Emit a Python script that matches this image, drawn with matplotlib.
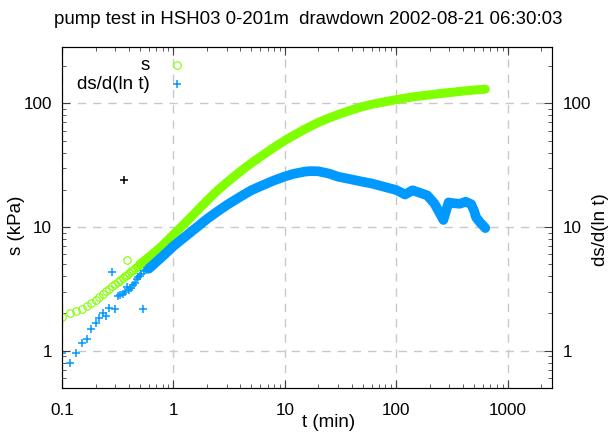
import matplotlib.pyplot as plt
from matplotlib.ticker import FixedLocator, LogLocator, NullFormatter

plt.rcParams['font.family'] = ['Liberation Sans', 'DejaVu Sans']
plt.rcParams['font.size'] = 12.3

green = '#80ff00'
blue = '#0099ff'

# first samples, 1 s apart (t in min)
t_early = [0.1, 0.117, 0.133, 0.15, 0.167, 0.183, 0.2, 0.217, 0.233, 0.25,
           0.267, 0.283, 0.3, 0.317, 0.333, 0.35, 0.367, 0.383, 0.383, 0.4,
           0.417, 0.433, 0.45, 0.467, 0.483, 0.5, 0.55, 0.6]
s_early = [1.88, 2.03, 2.10, 2.18, 2.31, 2.44, 2.58, 2.73, 2.88, 3.04,
           3.18, 3.32, 3.46, 3.59, 3.72, 3.86, 4.00, 4.12, 5.40, 4.25,
           4.38, 4.50, 4.62, 4.75, 4.86, 4.99, 5.33, 5.69]

t_early_d = [0.1, 0.117, 0.133, 0.15, 0.167, 0.183, 0.2, 0.217, 0.233, 0.25,
             0.267, 0.283, 0.3, 0.317, 0.333, 0.35, 0.367, 0.383, 0.4, 0.417,
             0.433, 0.45, 0.467, 0.483, 0.5, 0.517, 0.533, 0.55, 0.567]
ds_early = [0.96, 0.80, 0.96, 1.16, 1.25, 1.50, 1.68, 1.85, 2.03, 1.91,
            2.22, 4.33, 2.18, 2.78, 2.83, 2.90, 3.00, 3.28, 3.10, 3.22,
            3.40, 3.54, 3.81, 3.95, 4.00, 4.20, 2.18, 4.42, 4.50]

# dense part of the record
t_late = [0.5, 0.6, 0.7, 0.8, 0.9, 1, 1.2, 1.5, 2, 2.5, 3, 4, 5, 6, 8, 10,
          12, 15, 20, 25, 30, 40, 50, 60, 80, 100, 120, 150, 200, 250, 300,
          400, 500, 630]
s_late = [4.99, 5.69, 6.4, 7.1, 7.9, 8.7, 10.2, 12.5, 16.3, 19.8, 22.8,
          28.2, 32.8, 36.8, 44, 50, 55, 61.5, 70, 76, 81, 88.5, 94, 98, 103,
          107, 110, 113.5, 117, 120, 122, 125.5, 128, 130]

t_late_d = [0.6, 0.7, 0.8, 0.9, 1, 1.2, 1.5, 2, 2.5, 3, 4, 5, 6, 8, 10, 12,
            15, 17, 20, 25, 30, 40, 50, 60, 80, 100, 120, 140, 160, 190, 220,
            245, 265, 280, 295, 320, 370, 420, 470, 500, 520, 560, 600, 630]
ds_late = [4.6, 5.2, 5.8, 6.4, 7.0, 8.0, 9.4, 11.6, 13.4, 15.0, 17.6, 19.8,
           21.3, 23.8, 25.6, 26.9, 28.0, 28.3, 28.2, 27.0, 25.5, 24.2, 23.2,
           22.5, 21.0, 19.9, 18.3, 19.8, 19.0, 18.0, 15.5, 13.0, 11.4, 13.5,
           15.8, 15.6, 15.4, 16.0, 15.3, 13.5, 12.0, 11.0, 10.3, 9.8]

t_odd = [0.362]
ds_odd = [23.9]

fig = plt.figure(figsize=(6.16, 4.32), dpi=100)
ax = fig.add_axes([0.1006, 0.1019, 0.7955, 0.7893])

ax.plot(t_early, s_early, 'o', mfc='none', mec=green, ms=5.4, mew=0.8)
ax.plot(t_late, s_late, '-', color=green, lw=6.5, solid_capstyle='round')
ax.plot(t_early_d, ds_early, '+', color=blue, ms=5.8, mew=1.1)
ax.plot(t_late_d, ds_late, '-', color=blue, lw=7, solid_capstyle='round')
ax.plot(t_odd, ds_odd, '+', color='black', ms=5.8, mew=1.1)

ax.set_xscale('log')
ax.set_yscale('log')
ax.set_xlim(0.1, 2500)
ax.set_ylim(0.5, 285)

xt = [0.1, 1, 10, 100, 1000]
yt = [1, 10, 100]
ax.xaxis.set_major_locator(FixedLocator(xt))
ax.set_xticklabels(['0.1', '1', '10', '100', '1000'])
ax.yaxis.set_major_locator(FixedLocator(yt))
ax.set_yticklabels(['1', '10', '100'])
for a in (ax.xaxis, ax.yaxis):
    a.set_minor_locator(LogLocator(base=10, subs=range(2, 10), numticks=20))
    a.set_minor_formatter(NullFormatter())

ax.grid(True, which='major', color='#c8c8c8', lw=1, ls=(0, (6, 5)))
ax.tick_params(which='both', direction='in', top=True, right=True,
               color='#404040')
ax.tick_params(which='major', length=6)
ax.tick_params(which='minor', length=3)
ax.tick_params(axis='x', pad=11)
ax.tick_params(axis='y', pad=7)
for sp in ax.spines.values():
    sp.set_color('#404040')

ax2 = ax.twinx()
ax2.set_yscale('log')
ax2.set_ylim(ax.get_ylim())
ax2.yaxis.set_major_locator(FixedLocator(yt))
ax2.set_yticklabels(['1', '10', '100'])
ax2.yaxis.set_minor_locator(LogLocator(base=10, subs=range(2, 10), numticks=20))
ax2.yaxis.set_minor_formatter(NullFormatter())
ax2.tick_params(which='both', direction='in', color='#404040', pad=8)
ax2.tick_params(which='major', length=6)
ax2.tick_params(which='minor', length=3)

ax.set_xlabel('t (min)', fontsize=13.5)
ax.xaxis.set_label_coords(0.545, -0.1)
ax.xaxis.label.set_va('center')
ax.set_ylabel('s (kPa)', fontsize=13.5)
ax.yaxis.set_label_coords(-0.092, 0.478)
ax.yaxis.label.set_va('center')
ax2.set_ylabel('ds/d(ln t)', fontsize=13.5)
ax2.yaxis.set_label_coords(1.098, 0.463)
ax2.yaxis.label.set_va('center')

fig.text(0.5, 0.956, 'pump test in HSH03 0-201m  drawdown 2002-08-21 06:30:03',
         ha='center', va='center', fontsize=13.4)

# key, gnuplot style: text then sample
ax.text(0.18, 0.947, 's', transform=ax.transAxes, ha='right', va='center',
        fontsize=13.5)
ax.text(0.18, 0.891, 'ds/d(ln t)', transform=ax.transAxes, ha='right',
        va='center', fontsize=13.5)
ax.plot([0.235], [0.947], 'o', mfc='none', mec=green, ms=5.4, mew=0.8,
        transform=ax.transAxes)
ax.plot([0.235], [0.891], '+', color=blue, ms=5.8, mew=1.1,
        transform=ax.transAxes)

fig.savefig('out.png', dpi=100)
